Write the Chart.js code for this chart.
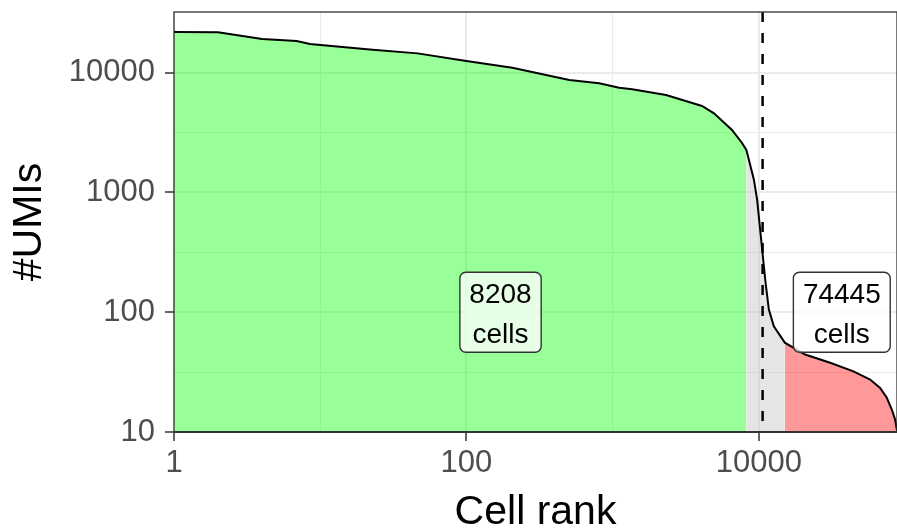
<!DOCTYPE html>
<html>
<head>
<meta charset="utf-8">
<script src="https://cdn.jsdelivr.net/npm/chart.js@4.4.1/dist/chart.umd.min.js"></script>
<style>
  html, body { margin: 0; padding: 0; background: #fff; }
</style>
</head>
<body>
<canvas id="knee" width="897" height="531"></canvas>
<script>
"use strict";

// Barcode rank curve
const cellRank = [1, 2, 4, 6.9, 8.5, 21.8, 46.3, 100, 206, 505, 809, 1107, 1359, 2318, 4083, 4930,
  6545, 7690, 8208, 8550, 9250, 9730, 10530, 11110, 11700, 12650, 15040, 20700, 30700, 44300,
  57650, 67450, 74950, 81100, 85450, 87740, 89485];
const umiCount = [21750, 21700, 19010, 18300, 17280, 15600, 14450, 12480, 10970, 8660, 8130, 7470, 7240, 6490, 5260, 4570,
  3320, 2570, 2260, 1865, 1270, 866, 332, 176, 105, 76.2, 55.7, 44.3, 37.8, 32.1,
  27.4, 23.3, 19.3, 15.4, 12.7, 10.5, 10];

const cellCutoff = 8208;     // last barcode called a cell
const ambientStart = 15040;  // first barcode counted as empty
const thresholdRank = 10600; // dashed line

const xTickValues = [1, 10, 100, 1000, 10000];
const xTickLabels = ['1', '', '100', '', '10000'];
const yTickValues = [10, 31.6, 100, 316, 1000, 3162, 10000];
const yTickLabels = ['10', '', '100', '', '1000', '', '10000'];

const boxTexts = [['8208', 'cells'], ['74445', 'cells']];
const boxRanks = [171, 36900];
const boxUmis = [100, 100];

const FONT = "'Liberation Sans', Arial, Helvetica, sans-serif";

const curve = cellRank.map((r, i) => ({ x: r, y: umiCount[i] }));
const segment = (lo, hi) => curve.filter(p => p.x >= lo && p.x <= hi);

const fillSet = (data, color) => ({
    data: data,
    backgroundColor: color,
    borderColor: 'rgba(0,0,0,0)',
    borderWidth: 0,
    pointRadius: 0,
    fill: 'start',
    tension: 0,
    order: 2
});

const roundBox = (ctx, x, y, w, h, r) => {
    ctx.beginPath();
    ctx.moveTo(x + r, y);
    ctx.arcTo(x + w, y, x + w, y + h, r);
    ctx.arcTo(x + w, y + h, x, y + h, r);
    ctx.arcTo(x, y + h, x, y, r);
    ctx.arcTo(x, y, x + w, y, r);
    ctx.closePath();
};

// threshold line, count labels and panel border on top of the data
const panelPlugin = {
    id: 'panel',
    afterDatasetsDraw(chart) {
        const { ctx, chartArea: a, scales: { x, y } } = chart;
        ctx.save();

        const tx = x.getPixelForValue(thresholdRank);
        ctx.strokeStyle = '#000';
        ctx.lineWidth = 2.5;
        ctx.setLineDash([10, 11]);
        ctx.beginPath();
        ctx.moveTo(tx, a.top);
        ctx.lineTo(tx, a.bottom);
        ctx.stroke();
        ctx.setLineDash([]);

        ctx.font = '28px ' + FONT;
        ctx.textAlign = 'center';
        ctx.textBaseline = 'alphabetic';
        boxTexts.forEach((lines, i) => {
            const cx = x.getPixelForValue(boxRanks[i]);
            const cy = y.getPixelForValue(boxUmis[i]);
            const w = Math.max(...lines.map(t => ctx.measureText(t).width)) + 19;
            const h = 80;
            roundBox(ctx, cx - w / 2, cy - h / 2, w, h, 6);
            ctx.fillStyle = 'rgba(255,255,255,0.75)';
            ctx.fill();
            ctx.strokeStyle = '#333';
            ctx.lineWidth = 1.4;
            ctx.stroke();
            ctx.fillStyle = '#000';
            ctx.fillText(lines[0], cx, cy - 9);
            ctx.fillText(lines[1], cx, cy + 31);
        });

        ctx.strokeStyle = '#333';
        ctx.lineWidth = 1.3;
        ctx.strokeRect(a.left, a.top, a.right - a.left, a.bottom - a.top);
        ctx.lineWidth = 2.2;
        ctx.beginPath();
        ctx.moveTo(a.left, a.bottom);
        ctx.lineTo(a.right, a.bottom);
        ctx.stroke();
        ctx.restore();
    }
};

const gridWidth = labels => c => (labels[c.index] ? 2 : 1);
const tickColor = labels => c => (labels[c.index] ? '#333' : 'rgba(0,0,0,0)');

new Chart(document.getElementById('knee'), {
    type: 'line',
    data: {
        datasets: [
            fillSet(segment(1, cellCutoff), 'rgba(0,255,0,0.4)'),
            fillSet(segment(cellCutoff, ambientStart), 'rgba(190,190,190,0.4)'),
            fillSet(segment(ambientStart, Infinity), 'rgba(255,0,0,0.4)'),
            {
                data: curve,
                borderColor: '#000',
                borderWidth: 2,
                pointRadius: 0,
                fill: false,
                tension: 0,
                order: 0
            }
        ]
    },
    options: {
        responsive: false,
        animation: false,
        events: [],
        layout: { padding: { top: 12, left: 0, right: 0, bottom: 0 } },
        plugins: { legend: { display: false }, tooltip: { enabled: false } },
        scales: {
            x: {
                type: 'logarithmic',
                min: 1,
                max: 88000,
                afterBuildTicks: s => { s.ticks = xTickValues.map(v => ({ value: v })); },
                afterFit: s => { s.height = 99; s.paddingLeft = 0; s.paddingRight = 0; },
                grid: {
                    color: '#EBEBEB',
                    lineWidth: gridWidth(xTickLabels),
                    tickLength: 9,
                    tickWidth: 1.5,
                    tickColor: tickColor(xTickLabels)
                },
                border: { display: false },
                ticks: {
                    autoSkip: false,
                    maxRotation: 0,
                    padding: 4,
                    color: '#4D4D4D',
                    font: { family: FONT, size: 31 },
                    callback: (v, i) => xTickLabels[i]
                },
                title: {
                    display: true,
                    text: 'Cell rank',
                    color: '#000',
                    font: { family: FONT, size: 41, lineHeight: 0.9 },
                    padding: 0
                }
            },
            y: {
                type: 'logarithmic',
                min: 10,
                max: 32000,
                afterBuildTicks: s => { s.ticks = yTickValues.map(v => ({ value: v })); },
                afterFit: s => { s.width = 174; s.paddingTop = 0; s.paddingBottom = 0; },
                grid: {
                    color: '#EBEBEB',
                    lineWidth: gridWidth(yTickLabels),
                    tickLength: 9,
                    tickWidth: 1.5,
                    tickColor: tickColor(yTickLabels)
                },
                border: { display: false },
                ticks: {
                    autoSkip: false,
                    padding: 10,
                    color: '#4D4D4D',
                    font: { family: FONT, size: 31 },
                    callback: (v, i) => yTickLabels[i]
                },
                title: {
                    display: true,
                    text: '#UMIs',
                    color: '#000',
                    font: { family: FONT, size: 41, lineHeight: 1.2 },
                    padding: { top: 5, bottom: 0 }
                }
            }
        }
    },
    plugins: [panelPlugin]
});
</script>
</body>
</html>
